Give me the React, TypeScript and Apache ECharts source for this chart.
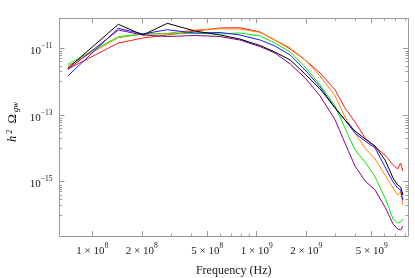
import React, { useEffect, useRef } from 'react';
import * as echarts from 'echarts';

// Frequencies (Hz) shared by all curves
const freqHz = [7.1e7, 1.44e8, 2.03e8, 2.86e8, 4.2e8, 6.0e8, 7.9e8, 1.05e9, 1.29e9, 1.6e9, 1.97e9, 2.43e9, 3.0e9, 3.44e9, 3.96e9, 4.56e9, 5.25e9, 6.03e9, 6.75e9, 7.2e9, 7.5e9, 7.75e9];

// h^2 Omega_gw values per curve
const redVals = [2.39e-12, 1.44e-11, 2.04e-11, 2.51e-11, 3.30e-11, 4.07e-11, 4.15e-11, 3.08e-11, 1.77e-11, 9.53e-12, 4.46e-12, 1.82e-12, 5.62e-13, 1.62e-13, 6.17e-14, 2.04e-14, 1.10e-14, 6.32e-15, 3.17e-15, 2.40e-15, 3.64e-15, 2.09e-15];
const orangeVals = [2.94e-12, 2.08e-11, 2.69e-11, 2.82e-11, 3.54e-11, 3.87e-11, 3.79e-11, 3.02e-11, 1.77e-11, 1.02e-11, 4.46e-12, 1.48e-12, 3.72e-13, 8.71e-14, 2.88e-14, 1.02e-14, 4.80e-15, 1.59e-15, 6.47e-16, 3.99e-16, 4.91e-16, 2.00e-16];
const greenVals = [3.31e-12, 2.23e-11, 2.69e-11, 2.69e-11, 2.82e-11, 2.69e-11, 2.88e-11, 2.34e-11, 1.44e-11, 7.74e-12, 2.75e-12, 7.94e-13, 1.86e-13, 4.07e-14, 8.93e-15, 3.90e-15, 1.38e-15, 3.24e-16, 7.62e-17, 5.78e-17, 6.19e-17, 7.62e-17];
const blueVals = [1.48e-12, 3.98e-11, 2.69e-11, 3.61e-11, 2.88e-11, 2.98e-11, 2.51e-11, 1.77e-11, 1.17e-11, 6.29e-12, 2.23e-12, 6.92e-13, 1.62e-13, 7.08e-14, 2.88e-14, 1.66e-14, 1.02e-14, 2.76e-15, 9.80e-16, 6.47e-16, 5.64e-16, 2.82e-16];
const blackVals = [2.51e-12, 5.25e-11, 2.51e-11, 5.62e-11, 3.30e-11, 2.51e-11, 1.90e-11, 1.21e-11, 7.74e-12, 4.46e-12, 1.69e-12, 6.03e-13, 1.62e-13, 7.08e-14, 3.31e-14, 1.91e-14, 1.17e-14, 4.48e-15, 1.29e-15, 7.96e-16, 6.93e-16, 3.99e-16];
const purpleVals = [2.31e-12, 3.54e-11, 2.51e-11, 2.26e-11, 2.42e-11, 2.26e-11, 1.77e-11, 1.12e-11, 7.23e-12, 3.38e-12, 1.29e-12, 3.72e-13, 7.08e-14, 1.45e-14, 2.96e-15, 1.05e-15, 5.64e-16, 1.74e-16, 5.40e-17, 3.82e-17, 3.56e-17, 4.70e-17];

// Ticks
const xMajorTicks = [1e8, 2e8, 5e8, 1e9, 2e9, 5e9];
const xMinorTicks = [3e8, 4e8, 6e8, 7e8, 8e8, 9e8, 3e9, 4e9, 6e9, 7e9, 8e9];
const yMajorTicks = [1e-11, 1e-13, 1e-15];
const yMinorTicks = [
  8e-12, 7e-12, 6e-12, 5e-12, 4e-12, 3e-12, 2e-12, 1e-12,
  8e-14, 7e-14, 6e-14, 5e-14, 4e-14, 3e-14, 2e-14, 1e-14,
  8e-16, 7e-16, 6e-16, 5e-16, 4e-16, 3e-16, 2e-16, 1e-16,
];

const X_MIN = 1e8 * Math.pow(10, -0.1995);
const X_MAX = 1e9 * Math.pow(10, 0.92);
const Y_MIN = Math.pow(10, -16.628);
const Y_MAX = Math.pow(10, -10.1);

const FONT = '"Liberation Serif", "Times New Roman", serif';
const FRAME = '#9a9a9a';
const TXT = '#1a1a1a';

const L = Math.log10;

function parts(v: number) {
  const e = Math.floor(L(v) + 1e-9);
  const m = Math.round(v / Math.pow(10, e));
  return { m, e };
}

const rich = {
  m: { fontFamily: FONT, fontSize: 11, color: TXT, lineHeight: 14, verticalAlign: 'bottom' },
  e: { fontFamily: FONT, fontSize: 7.5, color: TXT, lineHeight: 8, verticalAlign: 'top' },
};

export default function App() {
  const ref = useRef<HTMLDivElement>(null);
  useEffect(() => {
    if (!ref.current) return;
    const chart = echarts.init(ref.current, undefined, { renderer: 'svg' });
    const mk = (name: string, vals: number[], color: string) => ({
      name,
      type: 'line',
      data: freqHz.map((f, i) => [L(f), L(vals[i])]),
      showSymbol: false,
      symbol: 'none',
      lineStyle: { color, width: 1 },
      itemStyle: { color },
      xAxisIndex: 0,
      yAxisIndex: 0,
      z: 3,
    });
    const xBase = (position: string, ticks: number[], len: number, main: boolean, labels: boolean) => ({
      type: 'value',
      position,
      min: L(X_MIN),
      max: L(X_MAX),
      splitLine: { show: false },
      axisLine: { show: main, lineStyle: { color: FRAME, width: 1 } },
      axisTick: { show: true, inside: true, length: len, lineStyle: { color: FRAME, width: 1 }, customValues: ticks.map(L) },
      axisLabel: labels
        ? {
            show: true,
            margin: 5,
            customValues: ticks.map(L),
            formatter: (v: number) => {
              const p = parts(Math.pow(10, v));
              return `{m|${p.m} × 10}{e|${p.e}}`;
            },
            rich,
          }
        : { show: false },
    });
    const yBase = (position: string, ticks: number[], len: number, main: boolean, labels: boolean) => ({
      type: 'value',
      position,
      min: L(Y_MIN),
      max: L(Y_MAX),
      splitLine: { show: false },
      axisLine: { show: main, lineStyle: { color: FRAME, width: 1 } },
      axisTick: { show: true, inside: true, length: len, lineStyle: { color: FRAME, width: 1 }, customValues: ticks.map(L) },
      axisLabel: labels
        ? {
            show: true,
            margin: 7,
            customValues: ticks.map(L),
            formatter: (v: number) => {
              const p = parts(Math.pow(10, v));
              return `{m|10}{e|−${-p.e}}`;
            },
            rich,
          }
        : { show: false },
    });
    chart.setOption({
      animation: false,
      grid: { left: 59.5, right: 7, top: 18.3, bottom: 42, containLabel: false, outerBoundsMode: 'none' },
      xAxis: [
        {
          ...xBase('bottom', xMajorTicks, 5, true, true),
          name: 'Frequency (Hz)',
          nameLocation: 'middle',
          nameGap: 28,
          nameTextStyle: { fontFamily: FONT, fontSize: 12, color: TXT },
        },
        xBase('bottom', xMinorTicks, 2.5, false, false),
        xBase('top', xMajorTicks, 5, true, false),
        xBase('top', xMinorTicks, 2.5, false, false),
      ],
      yAxis: [
        yBase('left', yMajorTicks, 5, true, true),
        yBase('left', yMinorTicks, 2.5, false, false),
        yBase('right', yMajorTicks, 5, true, false),
        yBase('right', yMinorTicks, 2.5, false, false),
      ],
      graphic: [
        {
          type: 'text',
          x: 12,
          y: 122,
          rotation: Math.PI / 2,
          style: {
            text: '{i|h}{s| 2}{n|  Ω}{b| gw}',
            align: 'center',
            verticalAlign: 'middle',
            rich: {
              i: { fontFamily: FONT, fontSize: 12.5, fontStyle: 'italic', color: TXT, lineHeight: 14 },
              s: { fontFamily: FONT, fontSize: 8, color: TXT, lineHeight: 8, verticalAlign: 'top' },
              n: { fontFamily: FONT, fontSize: 12.5, color: TXT, lineHeight: 14 },
              b: { fontFamily: FONT, fontSize: 8.5, fontStyle: 'italic', color: TXT, lineHeight: 8, verticalAlign: 'bottom' },
            },
          },
        },
      ],
      series: [
        mk('red', redVals, '#ff1a1a'),
        mk('orange', orangeVals, '#ff8000'),
        mk('green', greenVals, '#00ee00'),
        mk('blue', blueVals, '#1a1aff'),
        mk('purple', purpleVals, '#880088'),
        mk('black', blackVals, '#000000'),
      ],
    });
    return () => chart.dispose();
  }, []);
  return <div ref={ref} style={{ position: 'fixed', left: 0, top: 0, width: 415, height: 278 }} />;
}
